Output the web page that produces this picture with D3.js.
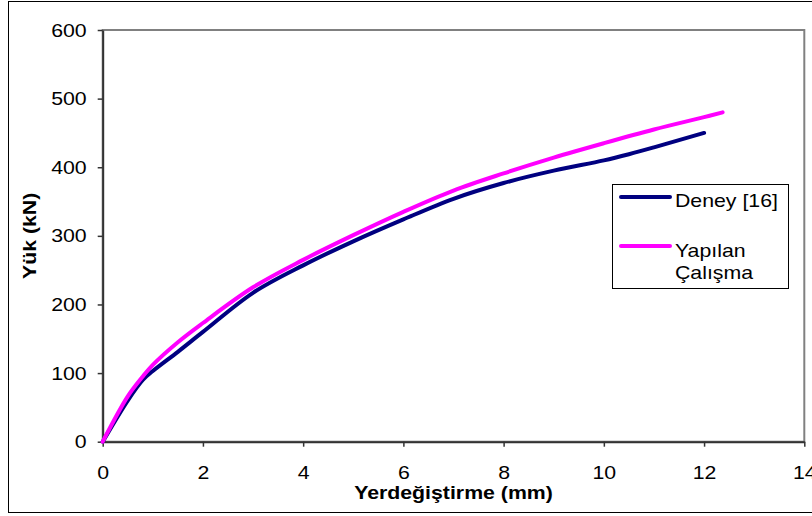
<!DOCTYPE html>
<html>
<head>
<meta charset="utf-8">
<script src="https://cdn.jsdelivr.net/npm/d3@7"></script>
<style>
  body { margin: 0; background: #fff; }
  svg text { font-family: "Liberation Sans", Arial, sans-serif; fill: #000; }
</style>
</head>
<body>
<div id="chart"></div>
<script>
// Data
const deneyX = [0, 0.5, 0.8, 1, 1.5, 2, 3, 4, 5, 6, 7, 8, 9, 10, 10.5, 11, 12];
const deneyY = [0, 60, 90, 103, 131, 160, 217, 257, 292, 324, 354, 377, 395, 410, 419, 429, 450];
const yapilanX = [0, 0.5, 0.8, 1, 1.5, 2, 3, 4, 5, 6, 7, 8, 9, 10, 11, 12, 12.37];
const yapilanY = [0, 66, 95, 112, 145, 173, 225, 265, 301, 335, 366, 391, 414, 435, 455, 473, 480];
const seriesNames = ["Deney [16]", "Yapılan Çalışma"];
const seriesColors = ["#000080", "#FF00FF"];
const xTicks = [0, 2, 4, 6, 8, 10, 12, 14];
const yTicks = [0, 100, 200, 300, 400, 500, 600];

const width = 812;
const height = 516;
const fontSize = "19px";
const stretch = 1.12; // glyphs in the picture are a little wider than normal

const svg = d3.select("#chart")
  .append("svg")
  .attr("width", width)
  .attr("height", height);

// Outer frame
svg.append("rect")
  .attr("x", 8.5).attr("y", 1.5)
  .attr("width", 820).attr("height", 511)
  .attr("fill", "none").attr("stroke", "#000");

// Scales
const x = d3.scaleLinear().domain([0, 14]).range([102.7, 804.3]);
const y = d3.scaleLinear().domain([0, 600]).range([441.7, 30]);

// Plot area border (top / right grey)
svg.append("rect")
  .attr("x", x(0)).attr("y", y(600))
  .attr("width", x(14) - x(0)).attr("height", y(0) - y(600))
  .attr("fill", "none").attr("stroke", "#808080").attr("stroke-width", 2);

// Axes
const xAxis = svg.append("g")
  .attr("transform", `translate(0, ${y(0)})`)
  .call(d3.axisBottom(x).tickValues(xTicks).tickSize(5).tickSizeOuter(0).tickPadding(19));
const yAxis = svg.append("g")
  .attr("transform", `translate(${x(0)}, 0)`)
  .call(d3.axisLeft(y).tickValues(yTicks).tickSize(5).tickSizeOuter(0).tickPadding(11));

[xAxis, yAxis].forEach(g => {
  g.select(".domain").attr("stroke", "#333").attr("stroke-width", 2);
  g.selectAll(".tick line").attr("stroke", "#333").attr("stroke-width", 1.5);
  g.selectAll(".tick text").style("font-size", fontSize).attr("fill", "#000");
});

// Lines
const line = d3.line()
  .x(d => x(d[0]))
  .y(d => y(d[1]))
  .curve(d3.curveCatmullRom.alpha(0.5));

const series = [
  d3.zip(deneyX, deneyY),
  d3.zip(yapilanX, yapilanY)
];

series.forEach((pts, i) => {
  svg.append("path")
    .datum(pts)
    .attr("d", line)
    .attr("fill", "none")
    .attr("stroke", seriesColors[i])
    .attr("stroke-width", 4)
    .attr("stroke-linecap", "round")
    .attr("stroke-linejoin", "round");
});

// Axis titles
svg.append("text")
  .attr("x", (x(0) + x(14)) / 2)
  .attr("y", 499)
  .attr("text-anchor", "middle")
  .style("font-size", fontSize)
  .style("font-weight", "bold")
  .text("Yerdeğiştirme (mm)");

svg.append("text")
  .attr("transform", `translate(36, ${(y(0) + y(600)) / 2}) rotate(-90)`)
  .attr("text-anchor", "middle")
  .style("font-size", fontSize)
  .style("font-weight", "bold")
  .text("Yük (kN)");

// Legend
const legend = svg.append("g");
legend.append("rect")
  .attr("x", 612.5).attr("y", 184.5)
  .attr("width", 176).attr("height", 104)
  .attr("fill", "#fff").attr("stroke", "#000");

legend.append("line")
  .attr("x1", 621).attr("x2", 670).attr("y1", 197).attr("y2", 197)
  .attr("stroke", seriesColors[0]).attr("stroke-width", 4).attr("stroke-linecap", "round");
legend.append("text")
  .attr("x", 675).attr("y", 206.5)
  .style("font-size", fontSize)
  .text(seriesNames[0]);

legend.append("line")
  .attr("x1", 621).attr("x2", 670).attr("y1", 246).attr("y2", 246)
  .attr("stroke", seriesColors[1]).attr("stroke-width", 4).attr("stroke-linecap", "round");
const lt = legend.append("text")
  .attr("x", 675).attr("y", 257)
  .style("font-size", fontSize);
lt.append("tspan").attr("x", 675).text("Yapılan");
lt.append("tspan").attr("x", 675).attr("dy", 21.5).text("Çalışma");

// Widen the glyphs a bit like in the picture
svg.selectAll("text").each(function() {
  const t = d3.select(this);
  const parts = t.selectAll("tspan").size() > 0 ? t.selectAll("tspan") : t;
  parts.each(function() {
    const w = this.getComputedTextLength();
    d3.select(this).attr("textLength", w * stretch).attr("lengthAdjust", "spacingAndGlyphs");
  });
});
</script>
</body>
</html>
